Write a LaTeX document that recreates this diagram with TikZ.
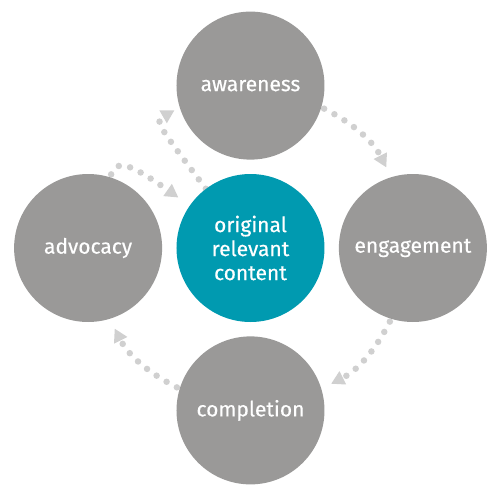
\documentclass[tikz,border=0pt]{standalone}
\usepackage{fontspec}
\setmainfont{Fira Sans}
\usetikzlibrary{backgrounds}
\usetikzlibrary{arrows.meta, positioning}

\definecolor{stagegray}{HTML}{9A9998}
\definecolor{contentteal}{HTML}{009AB0}
\definecolor{dotgray}{HTML}{D0D0D0}

\begin{document}
\begin{tikzpicture}[
    roundnode1/.style={circle, text=white, fill=stagegray, minimum size=148pt, inner sep=0pt,
        font=\fontsize{21}{24}\selectfont\addfontfeature{FakeBold=0.4}},
    roundnode2/.style={roundnode1, fill=contentteal, align=center},
    dotarrow/.style={dotgray, line width=6.5pt, line cap=round, dash pattern=on 0pt off 11.7pt,
        -{Triangle[width=15pt, length=13pt, line width=0pt]}, shorten <=3pt, shorten >=11pt},
    node distance=14pt,
    ]
    \useasboundingbox (-250.5pt,-251pt) rectangle (248.5pt,248pt);

    %Nodes
    \node[roundnode2]      (content)                             {original\\relevant\\content};
    \node[roundnode1]      (awareness)    [above=of content]     {awareness};
    \node[roundnode1]      (engagement)   [right=of content]     {engagement};
    \node[roundnode1]      (completion)   [below=of content]     {completion};
    \node[roundnode1]      (advocacy)     [left=of content]      {advocacy};

    %Lines
    \begin{scope}[on background layer]
    \draw[dotarrow] (awareness.-17) to[bend left=18] (engagement.107);
    \draw[dotarrow] (engagement.-107) to[bend left=18] (completion.17);
    \draw[dotarrow] (completion.163) to[bend left=18] (advocacy.-73);
    \draw[dotarrow, shorten >=14pt] (advocacy.73)
        to[out=63, in=145, out looseness=0.5, in looseness=2.5] (content.145);
    \draw[dotarrow, shorten <=0pt, shorten >=6pt] (content.127)
        to[out=127, in=210, out looseness=2.5, in looseness=0.84] (awareness.197);
    \end{scope}
  \end{tikzpicture}
\end{document}
